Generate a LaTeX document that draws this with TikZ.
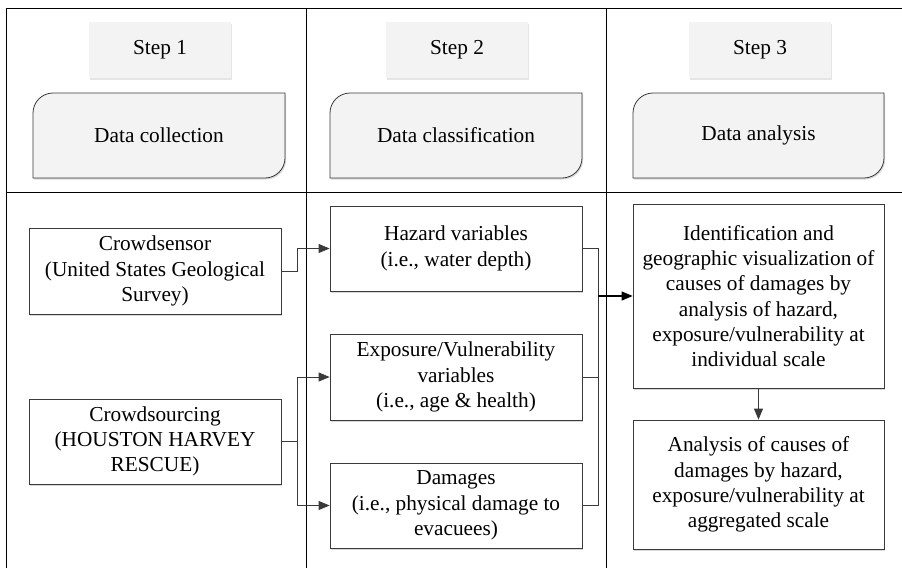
\documentclass[tikz,border=0pt]{standalone}
\usepackage{fontspec}
\setmainfont{Liberation Serif}
\usetikzlibrary{arrows.meta,shadows}
\definecolor{boxfill}{HTML}{F3F3F3}
\definecolor{edge}{HTML}{3A3A3A}
\begin{document}
\begin{tikzpicture}[x=1pt,y=-1pt,
  txt/.style={font=\rmfamily\fontsize{21.3}{25.3}\selectfont, align=center, text=black},
  stepbox/.style={txt, fill=boxfill, minimum width=142pt, minimum height=56pt, inner sep=0pt,
    drop shadow={shadow xshift=1.2pt,shadow yshift=-1.5pt,fill=black,opacity=0.10}},
  headshape/.style={draw=edge, line width=0.8pt, fill=boxfill,
    drop shadow={shadow xshift=1.2pt,shadow yshift=-1.5pt,fill=black,opacity=0.15}},
  itembox/.style={txt, draw=edge, line width=0.8pt, fill=white, minimum width=252pt, inner sep=0pt,
    drop shadow={shadow xshift=1.2pt,shadow yshift=-1.5pt,fill=black,opacity=0.15}},
  conn/.style={draw=edge, line width=0.8pt},
  arr/.style={conn, -{Triangle[length=11pt,width=9pt]}},
  frame/.style={draw=black, line width=1pt}]
\useasboundingbox (0,0) rectangle (902,568);
\fill[white] (0,0) rectangle (902,568);

% table frame
\draw[frame] (6.5,568) -- (6.5,8.5) -- (902,8.5);
\draw[frame] (6.5,192) -- (902,192);
\draw[frame] (306,8.5) -- (306,568);
\draw[frame] (606,8.5) -- (606,568);

% step labels
\node[stepbox] (s1) at (160,50) {Step 1};
\node[stepbox] (s2) at (457,50) {Step 2};
\node[stepbox] (s3) at (760,50) {Step 3};

% header shapes (top-left and bottom-right rounded)
\foreach \xa/\xb in {33/285, 330/582, 633/884}{
  \path[headshape] (\xa,113) .. controls (\xa,102) and ({\xa+9},93) .. ({\xa+20},93)
    -- (\xb,93) -- (\xb,158) .. controls (\xb,169) and ({\xb-9},178) .. ({\xb-20},178)
    -- (\xa,178) -- cycle;
}
\node[txt] (h1) at (159,135.5) {Data collection};
\node[txt] (h2) at (456,135.5) {Data classification};
\node[txt] (h3) at (758.5,135.5) {Data analysis};

% step 1 items
\node[itembox, minimum height=86pt] (cs) at (155,271) {Crowdsensor\\(United States Geological\\Survey)};
\node[itembox, minimum height=85pt] (cr) at (155,441.5) {Crowdsourcing\\(HOUSTON HARVEY\\RESCUE)};

% step 2 items
\node[itembox, minimum height=85pt] (hz) at (456,248.5) {Hazard variables\\(i.e., water depth)};
\node[itembox, minimum height=86pt] (ex) at (456,377) {Exposure/Vulnerability\\variables\\(i.e., age \& health)};
\node[itembox, minimum height=85pt] (dm) at (456,505.5) {Damages\\(i.e., physical damage to\\evacuees)};

% step 3 items
\node[itembox, minimum width=251pt, minimum height=184pt] (id) at (758.5,296) {Identification and\\geographic visualization of\\causes of damages by\\analysis of hazard,\\exposure/vulnerability at\\individual scale};
\node[itembox, minimum width=251pt, minimum height=129pt] (an) at (758.5,484.5) {Analysis of causes of\\damages by hazard,\\exposure/vulnerability at\\aggregated scale};

% connectors
\draw[arr] (cs.east) -- ++(16,0) |- (hz.west);
\coordinate (sp) at (297,441.5);
\draw[conn] (cr.east) -- (sp);
\draw[arr] (sp) |- (ex.west);
\draw[arr] (sp) |- (dm.west);

\coordinate (mg) at (598,296);
\draw[conn] (hz.east) -| (mg);
\draw[conn] (dm.east) -| (mg);
\draw[conn] (ex.east) -- (ex.east -| mg);
\draw[arr, draw=black, line width=1.2pt] (mg) -- (id.west);
\draw[arr] (id.south) -- (an.north);
\end{tikzpicture}
\end{document}
